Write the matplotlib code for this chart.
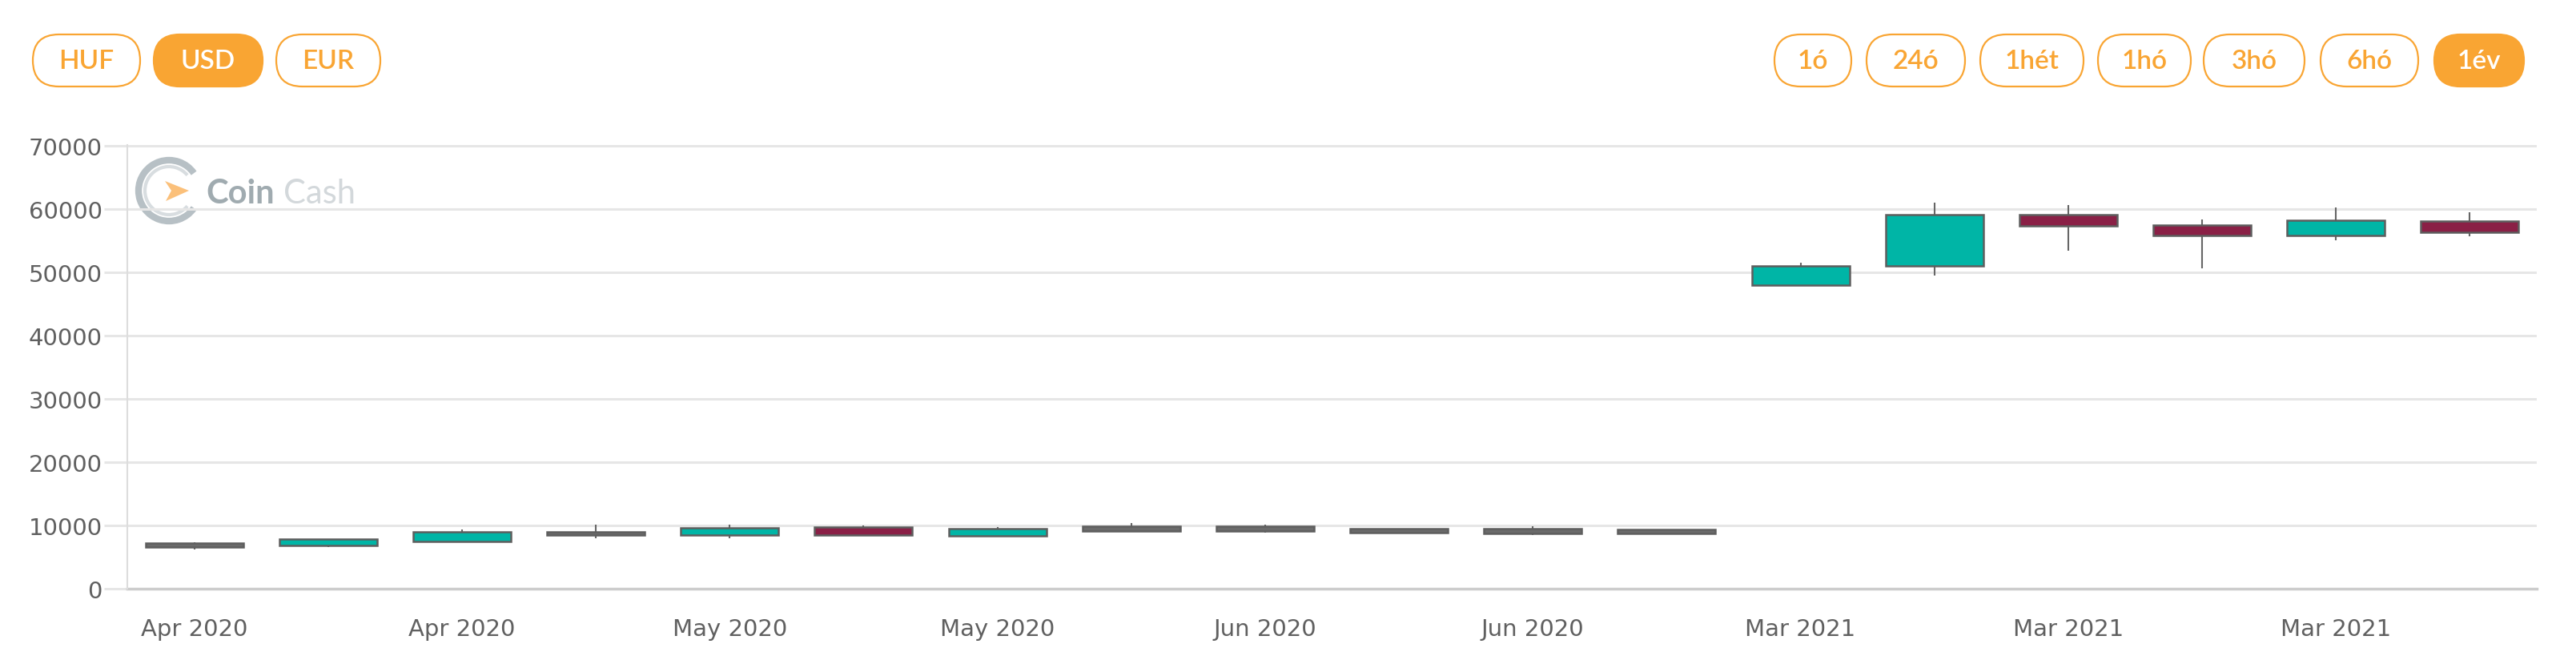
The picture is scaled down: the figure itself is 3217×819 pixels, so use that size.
import numpy as np
import matplotlib
matplotlib.use("Agg")
import matplotlib.pyplot as plt
from matplotlib.patches import FancyBboxPatch, Arc, Polygon

# candle data (USD), one candle per period
tick_labels = ["Apr 2020", "Apr 2020", "May 2020", "May 2020", "Jun 2020",
               "Jun 2020", "Mar 2021", "Mar 2021", "Mar 2021"]
opens = [6550, 6800, 7430, 8400, 8400, 9700, 8270, 9120, 9050, 8820, 8740, 8690,
         47990, 51050, 59120, 57520, 55880, 58200]
closes = [7150, 7760, 8990, 8990, 9620, 8400, 9450, 9870, 9850, 9410, 9410, 9320,
          51050, 59200, 57440, 55880, 58280, 56430]
highs = [7350, 7800, 9320, 10040, 10040, 9950, 9700, 10380, 10160, 9450, 9870, 9330,
         51560, 61050, 60710, 58400, 60290, 59580]
lows = [6200, 6500, 7400, 8000, 7950, 8350, 8250, 9100, 8780, 8780, 8480, 8680,
        47900, 49580, 53450, 50640, 55130, 55680]

currencies = ["HUF", "USD", "EUR"]
ranges = ["1ó", "24ó", "1hét", "1hó", "3hó", "6hó", "1év"]

W, H = 3217, 820
ORANGE = "#f9a533"
TEAL = "#00b5a6"
RED = "#8a2046"

fig = plt.figure(figsize=(W / 100, H / 100), dpi=100)

# background layer in pixel coordinates (buttons + watermark)
bg = fig.add_axes([0, 0, 1, 1], zorder=0)
bg.set_xlim(0, W)
bg.set_ylim(H, 0)
bg.axis("off")


def pill(x0, x1, text, active):
    y0, y1 = 44, 109
    r = (y1 - y0) / 2
    p = FancyBboxPatch((x0, y0), x1 - x0, y1 - y0,
                       boxstyle=f"round,pad=0,rounding_size={r}",
                       facecolor=ORANGE if active else "white",
                       edgecolor=ORANGE, linewidth=1.6)
    bg.add_patch(p)
    bg.text((x0 + x1) / 2, (y0 + y1) / 2 + 1, text, ha="center", va="center",
            fontsize=24, family="Lato", fontweight="semibold",
            color="white" if active else ORANGE)


left_pos = [(41, 175), (192, 328), (345, 475)]
for (a, b), t in zip(left_pos, currencies):
    pill(a, b, t, t == "USD")
right_pos = [(2216, 2312), (2331, 2454), (2473, 2602), (2620, 2736),
             (2752, 2878), (2898, 3020), (3040, 3152)]
for (a, b), t in zip(right_pos, ranges):
    pill(a, b, t, t == "1év")

# CoinCash watermark
cx, cy = 211, 239
bg.add_patch(Arc((cx, cy), 76, 76, theta1=35, theta2=325, color="#b7c0c5", lw=6))
bg.add_patch(Arc((cx, cy), 60, 60, theta1=40, theta2=320, color="#d8dde0", lw=3))
bg.add_patch(Polygon([[206, 227], [236, 239], [207, 252], [214, 239]],
                     closed=True, color="#fbc07a", lw=0))
bg.text(257, 254, "Coin", fontsize=30, family="Lato", fontweight="bold",
        color="#a0abb0", va="baseline")
bg.text(354, 254, "Cash", fontsize=30, family="Lato", fontweight="normal",
        color="#d3d8db", va="baseline")

# main chart
ax = fig.add_axes([159 / W, (H - 735.7) / H, (3168 - 159) / W, (735.7 - 182.3) / H],
                  zorder=1)
ax.set_facecolor("none")

x = np.arange(len(opens))
o = np.array(opens)
c = np.array(closes)
body = np.abs(c - o)
colors = np.where(body < 900, "#6b6b6b", np.where(c > o, TEAL, RED))

ax.vlines(x, lows, highs, color="#666666", lw=1.5, zorder=2)
ax.bar(x, body, bottom=np.minimum(o, c), width=0.73, color=colors,
       edgecolor="#5e5e5e", linewidth=1.8, zorder=3)

ax.set_xlim(-0.5, len(opens) - 0.5)
ax.set_ylim(0, 70150)
ax.set_yticks(range(0, 70001, 10000))
ax.yaxis.grid(True, color="#e6e6e6", lw=2.2)
ax.set_axisbelow(True)
ax.axhline(0, color="#cccccc", lw=2.5, zorder=1, clip_on=False)

for s in ["top", "right", "bottom"]:
    ax.spines[s].set_visible(False)
ax.spines["left"].set_color("#dddddd")
ax.spines["left"].set_linewidth(1.5)

ax.set_xticks(range(0, len(opens), 2))
ax.set_xticklabels(tick_labels)
ax.tick_params(axis="y", length=21, width=2.2, color="#e6e6e6", pad=1.5,
               labelsize=21, labelcolor="#606060")
ax.tick_params(axis="x", length=0, pad=26, labelsize=21, labelcolor="#606060")

fig.savefig("out.png", dpi=100)
